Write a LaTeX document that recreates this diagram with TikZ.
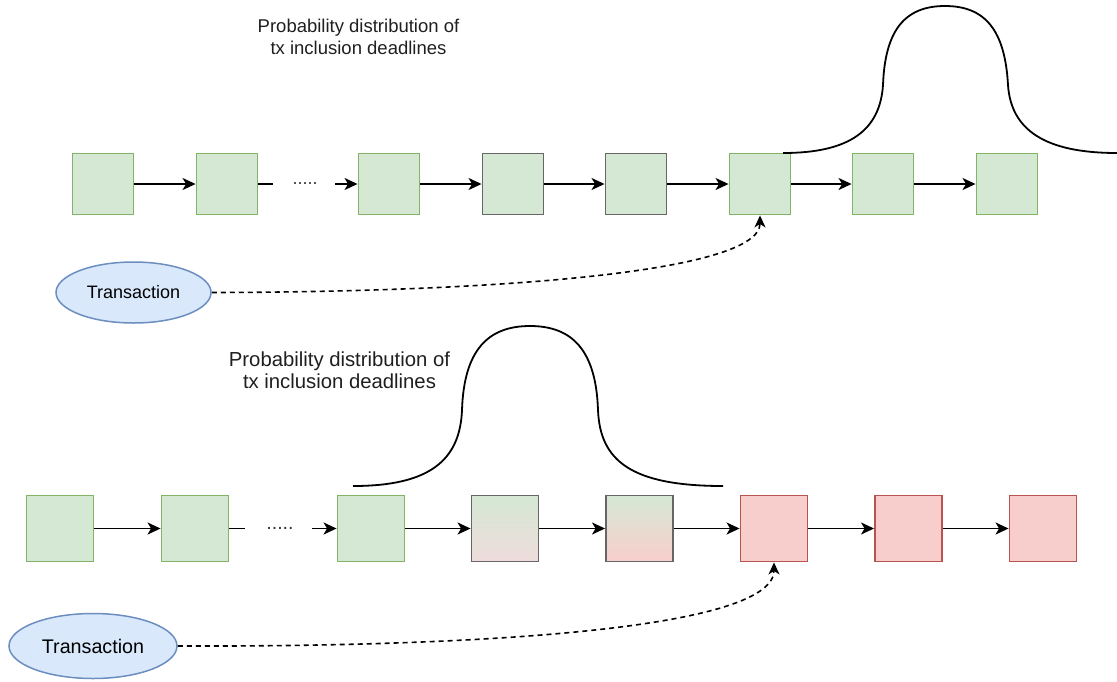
\documentclass[tikz,border=0pt]{standalone}
\usepackage{fontspec}
\setmainfont{Liberation Sans}
\usetikzlibrary{shapes.geometric,arrows.meta}
\definecolor{grfill}{HTML}{D5E8D4}
\definecolor{grline}{HTML}{82B366}
\definecolor{rdfill}{HTML}{F8CECC}
\definecolor{rdline}{HTML}{B85450}
\definecolor{blfill}{HTML}{DAE8FC}
\definecolor{blline}{HTML}{6C8EBF}
\definecolor{gyline}{HTML}{666666}
\definecolor{midpink}{HTML}{EEDCDB}
\begin{document}
\begin{tikzpicture}[x=1pt,y=-1pt,
  blk/.style={rectangle,inner sep=0pt,line width=1.9pt},
  blkA/.style={blk,minimum width=61pt,minimum height=61pt},
  blkB/.style={blk,minimum width=67pt,minimum height=66pt},
  okblk/.style={fill=grfill,draw=grline},
  okgray/.style={fill=grfill,draw=gyline},
  badblk/.style={fill=rdfill,draw=rdline},
  fadeA/.style={top color=grfill,bottom color=midpink,draw=gyline},
  fadeB/.style={top color=grfill,bottom color=rdfill,draw=gyline},
  link/.style={line width=1.6pt,-{Stealth[length=13pt,width=12pt,inset=3.5pt]}},
  plain/.style={line width=1.6pt},
  txlink/.style={line width=1.6pt,dash pattern=on 5pt off 4pt,-{Stealth[length=12pt,width=11pt,inset=3.5pt]}},
  bell/.style={line width=1.8pt,black},
  txnode/.style={ellipse,fill=blfill,draw=blline,line width=1.5pt,inner sep=0pt},
  lbl/.style={align=center,inner sep=0pt,text=black!88}
]
\useasboundingbox (0,0) rectangle (1117,681);

% ---------- upper chain ----------
\node[blkA,okblk]  (a1) at (103,184) {};
\node[blkA,okblk]  (a2) at (227,184) {};
\node[blkA,okblk]  (a3) at (389,184) {};
\node[blkA,okgray] (a4) at (513,184) {};
\node[blkA,okgray] (a5) at (636,184) {};
\node[blkA,okblk]  (a6) at (760,184) {};
\node[blkA,okblk]  (a7) at (883,184) {};
\node[blkA,okblk]  (a8) at (1007,184) {};
\coordinate (agapL) at (273,184);
\coordinate (agapR) at (335,184);
\node[inner sep=0pt,font=\fontsize{18}{20}\selectfont,text=black!80] (adots) at (305,184) {.....};

\draw[link] (a1) -- (a2);
\draw[plain] (a2.east) -- (agapL);
\draw[link] (agapR) -- (a3.west);
\draw[link] (a3) -- (a4);
\draw[link] (a4) -- (a5);
\draw[link] (a5) -- (a6);
\draw[link] (a6) -- (a7);
\draw[link] (a7) -- (a8);

\node[txnode,minimum width=155pt,minimum height=61pt,font=\fontsize{18}{20}\selectfont] (tx1) at (133.5,292.5) {Transaction};
\draw[txlink] (tx1.east) .. controls (500,292) and (760,272) .. (a6.south);

\node[lbl,font=\fontsize{18.5}{21.6}\selectfont] (lab1) at (358.5,37) {Probability distribution of\\tx inclusion deadlines};

% deadline distribution over the upper chain
\draw[bell] (783,153) .. controls (850,153) and (880,130) .. (883,85)
  .. controls (885,30) and (905,6) .. (945,6)
  .. controls (985,6) and (1005,30) .. (1008,85)
  .. controls (1011,130) and (1045,153) .. (1117,153);

% ---------- lower chain ----------
\node[blkB,okblk]  (b1) at (60,528.5) {};
\node[blkB,okblk]  (b2) at (195,528.5) {};
\node[blkB,okblk]  (b3) at (371,528.5) {};
\node[blkB,fadeA]  (b4) at (505,528.5) {};
\node[blkB,fadeB]  (b5) at (639.5,528.5) {};
\node[blkB,badblk] (b6) at (774,528.5) {};
\node[blkB,badblk] (b7) at (908.5,528.5) {};
\node[blkB,badblk] (b8) at (1043,528.5) {};
\coordinate (bgapL) at (245,528.5);
\coordinate (bgapR) at (312,528.5);
\node[inner sep=0pt,font=\fontsize{19.5}{22}\selectfont,text=black!80] (bdots) at (280,528.5) {.....};

\draw[link] (b1) -- (b2);
\draw[plain] (b2.east) -- (bgapL);
\draw[link] (bgapR) -- (b3.west);
\draw[link] (b3) -- (b4);
\draw[link] (b4) -- (b5);
\draw[link] (b5) -- (b6);
\draw[link] (b6) -- (b7);
\draw[link] (b7) -- (b8);

\node[txnode,minimum width=168pt,minimum height=65pt,font=\fontsize{19.7}{22}\selectfont] (tx2) at (93,646) {Transaction};
\draw[txlink] (tx2.east) .. controls (500,647) and (774,627) .. (b6.south);

\node[lbl,font=\fontsize{20.3}{22.5}\selectfont] (lab2) at (339.5,370) {Probability distribution of\\tx inclusion deadlines};

% deadline distribution over the lower chain
\draw[bell] (353,486) .. controls (430,486) and (460,460) .. (462,410)
  .. controls (464,350) and (488,326) .. (530,326)
  .. controls (572,326) and (596,350) .. (598,410)
  .. controls (600,460) and (630,486) .. (723,486);
\end{tikzpicture}
\end{document}
